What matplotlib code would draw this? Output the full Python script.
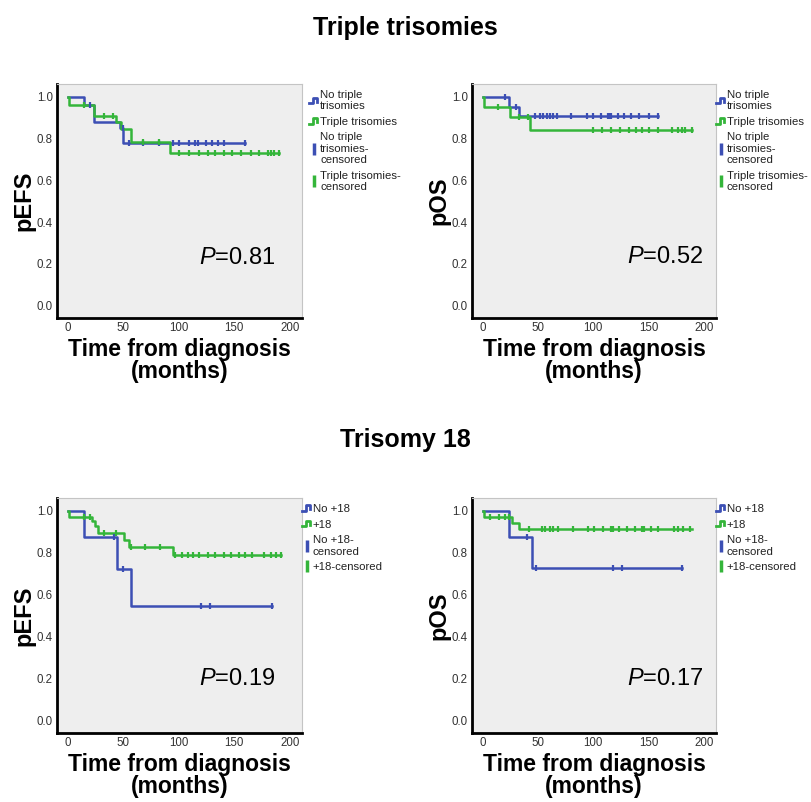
import numpy as np
import matplotlib
matplotlib.use('Agg')
import matplotlib.pyplot as plt
from matplotlib.lines import Line2D
from matplotlib.legend_handler import HandlerBase

plt.rcParams['font.family'] = ['Liberation Sans', 'DejaVu Sans']
plt.rcParams['mathtext.fontset'] = 'custom'
plt.rcParams['mathtext.it'] = 'Liberation Sans:italic'
plt.rcParams['mathtext.rm'] = 'Liberation Sans'

BLUE = '#3c4fb4'
GREEN = '#34b53a'

# ---- Triple trisomies, pEFS ----
efs_tt_no_times = [14.8, 24, 47, 50]
efs_tt_no_surv = [0.959, 0.876, 0.85, 0.78]
efs_tt_no_end = 160
efs_tt_no_cens = [20, 49.7, 55, 68, 82, 95, 100, 109, 115, 117, 124.5, 130, 135, 140.6, 160]

efs_tt_yes_times = [1, 24, 43.6, 48, 56.7, 92]
efs_tt_yes_surv = [0.959, 0.908, 0.876, 0.844, 0.783, 0.728]
efs_tt_yes_end = 190
efs_tt_yes_cens = [15, 33, 40.6, 68, 82, 100, 109, 118, 126, 133, 140.6, 148, 156, 165,
                   172, 180, 183, 186, 190]

# ---- Triple trisomies, pOS ----
os_tt_no_times = [23.8, 32.7]
os_tt_no_surv = [0.952, 0.908]
os_tt_no_end = 159
os_tt_no_cens = [20, 30.7, 47.6, 52, 55, 58, 61, 64, 67, 80, 94, 100, 107, 113, 114.6, 116,
                 122, 128, 134, 141, 150, 159]

os_tt_yes_times = [1, 24.4, 43]
os_tt_yes_surv = [0.952, 0.9, 0.839]
os_tt_yes_end = 189
os_tt_yes_cens = [14, 32.7, 41, 100, 108, 116, 124, 132, 139, 144, 150, 159, 171, 177, 180,
                  183, 189]

# ---- Trisomy 18, pEFS ----
efs_18_no_times = [14.8, 44.5, 56.7]
efs_18_no_surv = [0.873, 0.721, 0.545]
efs_18_no_end = 184
efs_18_no_cens = [41.5, 49.7, 120, 128.5, 184]

efs_18_yes_times = [1, 22.4, 24.5, 27, 51.2, 55, 95]
efs_18_yes_surv = [0.971, 0.952, 0.927, 0.892, 0.86, 0.825, 0.788]
efs_18_yes_end = 192
efs_18_yes_cens = [14.8, 20.3, 33, 43.6, 56.7, 70, 83, 96.7, 102.7, 108.8, 113, 118, 126, 133,
                   140.6, 147, 154, 160, 166, 177, 183, 187.6, 192]

# ---- Trisomy 18, pOS ----
os_18_no_times = [23.8, 44.6]
os_18_no_surv = [0.873, 0.728]
os_18_no_end = 180
os_18_no_cens = [40.2, 48, 117.6, 125.6, 180]

os_18_yes_times = [1, 26.8, 32.7]
os_18_yes_surv = [0.968, 0.943, 0.912]
os_18_yes_end = 189
os_18_yes_cens = [6.5, 14.9, 20, 23.8, 41.7, 53.6, 56.5, 61, 64, 67.9, 81.8, 95, 101, 109, 116,
                  117.6, 123.5, 131, 138, 144, 146, 152, 159, 172.6, 177, 181.5, 187.5]

tt_labels = ['No triple\ntrisomies', 'Triple trisomies', 'No triple\ntrisomies-\ncensored',
             'Triple trisomies-\ncensored']
t18_labels = ['No +18', '+18', 'No +18-\ncensored', '+18-censored']


class StepKey:
    def __init__(self, color):
        self.color = color


class StepHandler(HandlerBase):
    def create_artists(self, legend, orig_handle, xd, yd, w, h, fontsize, trans):
        x = np.array([0.0, 0.4, 0.4, 0.85, 0.85]) * w - xd
        y = np.array([0.15, 0.15, 0.85, 0.85, 0.35]) * h - yd
        return [Line2D(x, y, color=orig_handle.color, lw=2, transform=trans)]


def km(ax, times, surv, end, cens, color):
    t = [0] + times + [end]
    s = [1.0] + surv + [surv[-1]]
    ax.step(t, s, where='post', color=color, lw=1.8, zorder=3)
    idx = np.searchsorted(times, cens, side='right')
    cy = np.array([1.0] + surv)[idx]
    ax.plot(cens, cy, ls='none', marker='|', ms=5, mew=1.6, color=color, zorder=4)


def style(ax, ylabel, ptext, px, py, labels, legx):
    ax.set_facecolor('#eeeeee')
    ax.set_xlim(-9.5, 211)
    ax.set_ylim(-0.058, 1.06)
    ax.set_xticks([0, 50, 100, 150, 200])
    ax.set_yticks([0.0, 0.2, 0.4, 0.6, 0.8, 1.0])
    ax.set_yticklabels(['0.0', '0.2', '0.4', '0.6', '0.8', '1.0'])
    ax.tick_params(length=0, labelsize=8.3, labelcolor='#333333', pad=3)
    for sp in ['left', 'bottom']:
        ax.spines[sp].set_linewidth(2)
        ax.spines[sp].set_color('black')
    for sp in ['top', 'right']:
        ax.spines[sp].set_linewidth(0.8)
        ax.spines[sp].set_color('#c4c4c4')
    ax.set_ylabel(ylabel, fontsize=17, fontweight='bold', labelpad=1)
    ax.set_xlabel('Time from diagnosis\n(months)', fontsize=16.5, fontweight='bold',
                  labelpad=3, linespacing=0.9)
    ax.text(px, py, r'$\it{P}$=' + ptext,
            transform=ax.transAxes, fontsize=17, ha='left', va='center')
    handles = [StepKey(BLUE), StepKey(GREEN),
               Line2D([], [], ls='none', marker='|', ms=9, mew=2.5, color=BLUE),
               Line2D([], [], ls='none', marker='|', ms=9, mew=2.5, color=GREEN)]
    leg = ax.legend(handles, labels, handler_map={StepKey: StepHandler()},
                    loc='upper left', bbox_to_anchor=(legx, 0.975), frameon=False,
                    fontsize=8.2, handlelength=0.8, handletextpad=0.15,
                    labelspacing=0.5, borderaxespad=0, borderpad=0)
    for t in leg.get_texts():
        t.set_linespacing(1.15)
        t.set_color('#222222')


fig = plt.figure(figsize=(8.11, 8.02), dpi=100)

ax1 = fig.add_axes([0.0703, 0.6035, 0.3021, 0.2918])
km(ax1, efs_tt_no_times, efs_tt_no_surv, efs_tt_no_end, efs_tt_no_cens, BLUE)
km(ax1, efs_tt_yes_times, efs_tt_yes_surv, efs_tt_yes_end, efs_tt_yes_cens, GREEN)
style(ax1, 'pEFS', '0.81', 0.58, 0.256, tt_labels, 1.03)

ax2 = fig.add_axes([0.582, 0.6035, 0.3009, 0.2918])
km(ax2, os_tt_no_times, os_tt_no_surv, os_tt_no_end, os_tt_no_cens, BLUE)
km(ax2, os_tt_yes_times, os_tt_yes_surv, os_tt_yes_end, os_tt_yes_cens, GREEN)
style(ax2, 'pOS', '0.52', 0.635, 0.262, tt_labels, 1.0)

ax3 = fig.add_axes([0.0703, 0.0860, 0.3021, 0.2930])
km(ax3, efs_18_no_times, efs_18_no_surv, efs_18_no_end, efs_18_no_cens, BLUE)
km(ax3, efs_18_yes_times, efs_18_yes_surv, efs_18_yes_end, efs_18_yes_cens, GREEN)
style(ax3, 'pEFS', '0.19', 0.58, 0.229, t18_labels, 1.0)

ax4 = fig.add_axes([0.582, 0.0860, 0.3009, 0.2930])
km(ax4, os_18_no_times, os_18_no_surv, os_18_no_end, os_18_no_cens, BLUE)
km(ax4, os_18_yes_times, os_18_yes_surv, os_18_yes_end, os_18_yes_cens, GREEN)
style(ax4, 'pOS', '0.17', 0.635, 0.229, t18_labels, 1.0)

fig.text(0.4994, 0.956, 'Triple trisomies', ha='center', va='baseline',
         fontweight='bold', fontsize=18)
fig.text(0.4994, 0.4426, 'Trisomy 18', ha='center', va='baseline',
         fontweight='bold', fontsize=18)

fig.savefig('out.png', dpi=100)
